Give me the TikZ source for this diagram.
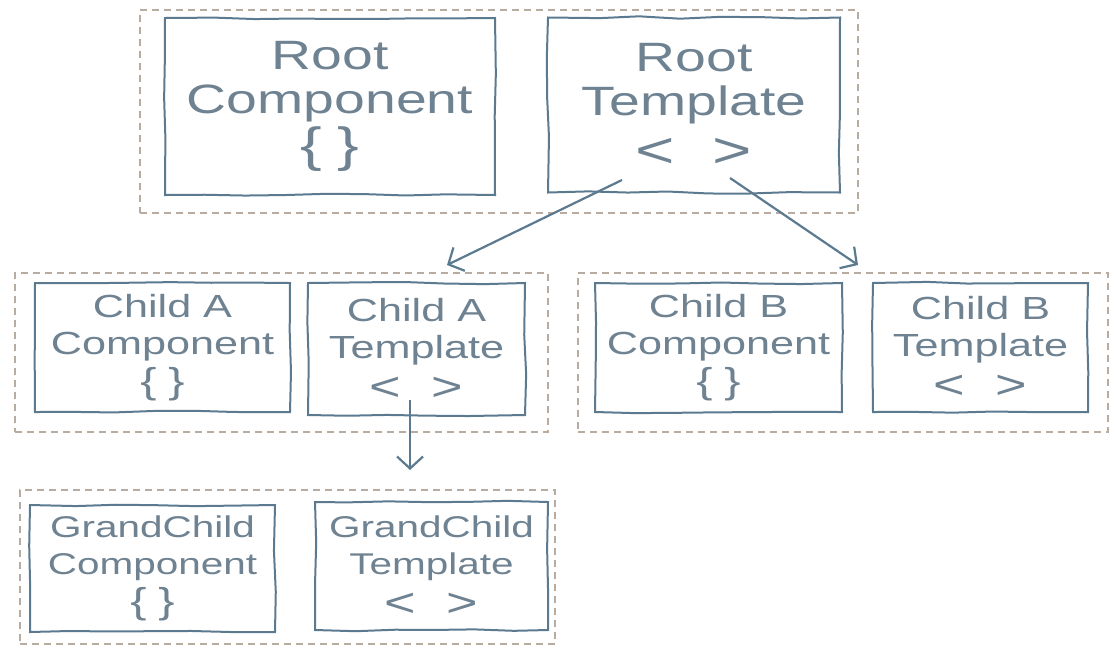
\documentclass[tikz,border=0pt]{standalone}
\usepackage{fontspec}
\usepackage{tikz}
\usetikzlibrary{arrows.meta,decorations.pathmorphing}
\newfontfamily\handfont[FakeStretch=1.35]{Liberation Sans}
\definecolor{inkblue}{HTML}{5B7A90}
\definecolor{inktext}{HTML}{6E8291}
\definecolor{dashgrey}{HTML}{B8ABA0}
\newcommand{\braces}[1]{{\fontsize{#1}{#1}\selectfont\{\,\,\}}}
\newcommand{\angles}[1]{{\fontsize{#1}{#1}\selectfont<\ \ >}}

\begin{document}
\begin{tikzpicture}[x=1pt, y=-1pt,
  part/.style={draw=inkblue, line width=2pt, align=center, text=inktext, inner sep=0pt,
    decorate, decoration={random steps, segment length=40pt, amplitude=1.2pt}},
  group/.style={draw=dashgrey, dash pattern=on 7pt off 5pt, line width=1.4pt, inner sep=0pt},
  bigtxt/.style={font=\handfont\fontsize{41}{44}\selectfont},
  midtxt/.style={font=\handfont\fontsize{32}{37}\selectfont},
  smalltxt/.style={font=\handfont\fontsize{30}{37}\selectfont},
  link/.style={draw=inkblue, line width=2.2pt, -{Straight Barb[length=12pt,width=26pt]}}]
        \pgfmathsetseed{7}
        \useasboundingbox (0, 0) rectangle (1115, 649);
        % dashed groups
        \node[group, minimum width=718pt, minimum height=203pt] (rootgrp) at (499, 111.5) {};
        \node[group, minimum width=533pt, minimum height=159pt] (agrp) at (281.5, 352.5) {};
        \node[group, minimum width=530pt, minimum height=159pt] (bgrp) at (843, 352.5) {};
        \node[group, minimum width=535pt, minimum height=154pt] (ggrp) at (287.5, 567) {};
        % root
        \node[part, bigtxt, minimum width=330pt, minimum height=177pt] (rootcmp) at (330, 106.5)
          {Root\\Component\\[4pt]\braces{48}};
        \node[part, bigtxt, minimum width=292pt, minimum height=175pt] (roottpl) at (694, 105)
          {Root\\Template\\[8pt]\angles{50}};
        % child A
        \node[part, midtxt, minimum width=255pt, minimum height=129pt] (acmp) at (162.5, 347.5)
          {Child A\\Component\\[2pt]\braces{36}};
        \node[part, midtxt, minimum width=217pt, minimum height=132pt] (atpl) at (416.5, 349)
          {Child A\\Template\\[5pt]\angles{40}};
        % child B
        \node[part, midtxt, minimum width=247pt, minimum height=129pt] (bcmp) at (718.5, 347.5)
          {Child B\\Component\\[2pt]\braces{36}};
        \node[part, midtxt, minimum width=215pt, minimum height=129pt] (btpl) at (980.5, 347.5)
          {Child B\\Template\\[5pt]\angles{40}};
        % grandchild
        \node[part, smalltxt, minimum width=245pt, minimum height=127pt] (gcmp) at (152.5, 568.5)
          {GrandChild\\Component\\[2pt]\braces{36}};
        \node[part, smalltxt, minimum width=233pt, minimum height=128pt] (gtpl) at (431.5, 566)
          {GrandChild\\Template\\[5pt]\angles{40}};
        % arrows
        \coordinate (rootL) at (622, 180);
        \coordinate (rootR) at (730, 178);
        \coordinate (aTop) at (447, 265);
        \coordinate (bTop) at (858, 265);
        \coordinate (aDown) at (410, 400);
        \coordinate (gTop) at (410, 470);
        \draw[link] (rootL) -- (aTop);
        \draw[link] (rootR) -- (bTop);
        \draw[link] (aDown) -- (gTop);
\end{tikzpicture}
\end{document}
